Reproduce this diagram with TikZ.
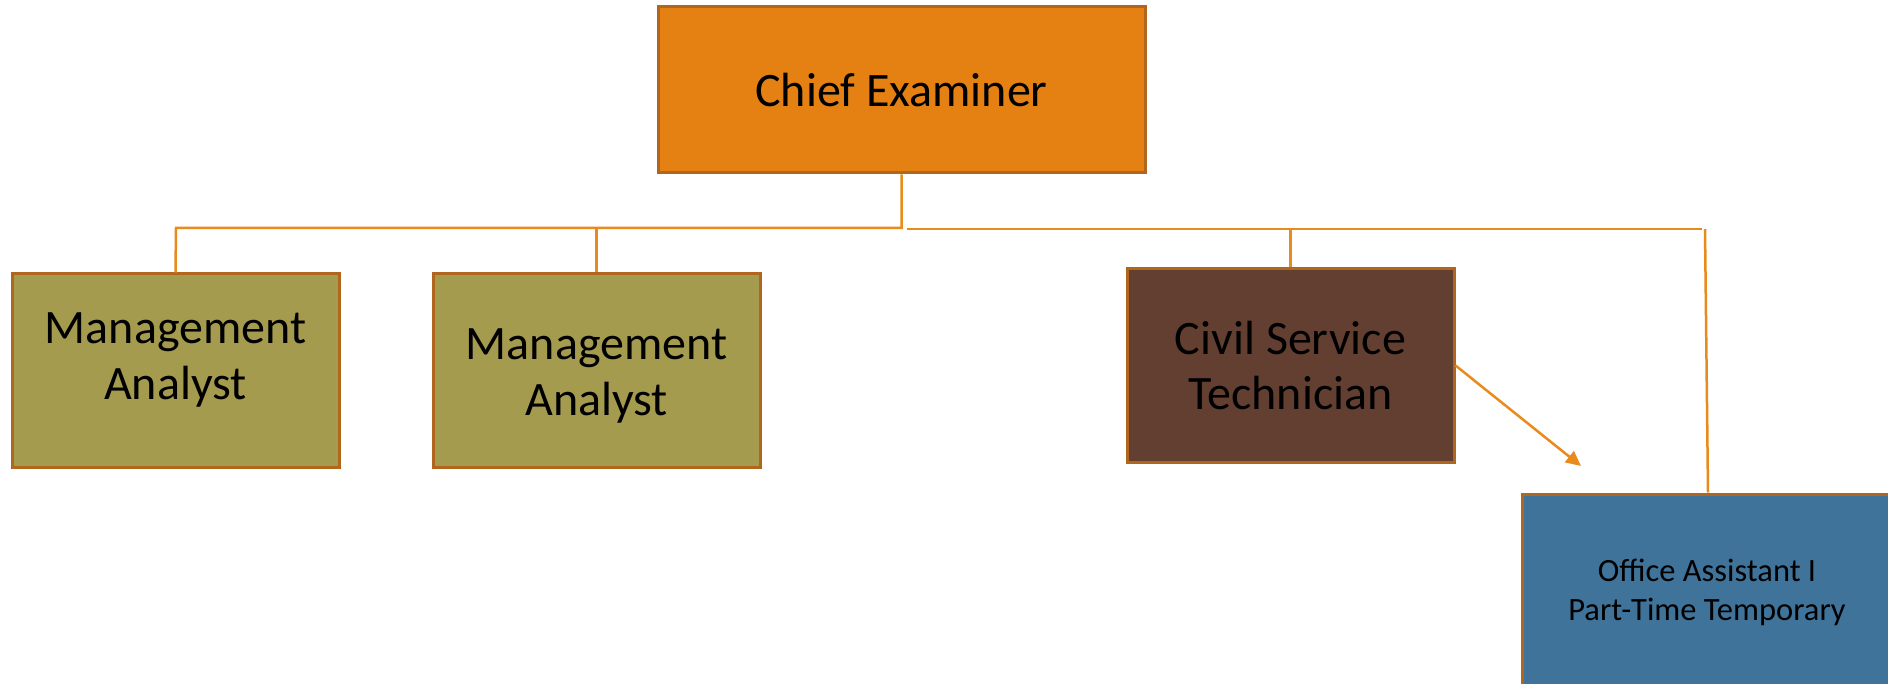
\documentclass[tikz,border=0pt]{standalone}
\usepackage{fontspec}
\setmainfont{Carlito}
\usetikzlibrary{arrows.meta}

\definecolor{chieforange}{HTML}{E48112}
\definecolor{boxedge}{HTML}{B0661C}
\definecolor{analystolive}{HTML}{A59B4E}
\definecolor{techbrown}{HTML}{633F31}
\definecolor{officeblue}{HTML}{3F7399}
\definecolor{lineorange}{HTML}{E88A1C}

\tikzset{
    post/.style={rectangle, draw=boxedge, line width=3pt, inner sep=0pt,
        align=center, text=black},
    bigtext/.style={font=\fontsize{48}{56}\selectfont, align=center},
    conn/.style={draw=lineorange, line width=2.5pt}
}

\begin{document}
\begin{tikzpicture}[x=1pt, y=-1pt]
    \useasboundingbox (0,0) rectangle (1888,684);

    % Boxes
    \node[post, bigtext, fill=chieforange, minimum width=487, minimum height=166]
        (chief) at (901.5,90) {Chief Examiner};
    \node[post, fill=analystolive, minimum width=327, minimum height=193]
        (ma1) at (175.5,370.5) {};
    \node[bigtext] (ma1txt) at ([yshift=11]ma1.center) {Management\\Analyst};
    \node[post, fill=analystolive, minimum width=327, minimum height=193]
        (ma2) at (596.5,370.5) {};
    \node[bigtext] (ma2txt) at ([yshift=-5]ma2.center) {Management\\Analyst};
    \node[post, bigtext, fill=techbrown, minimum width=327, minimum height=193,
        font=\fontsize{48}{55}\selectfont] (cst) at (1290.5,365.5) {Civil Service\\Technician};
    \node[post, fill=officeblue, minimum width=370, minimum height=196,
        font=\fontsize{32.5}{39}\selectfont] (oa) at (1707,592) {Office Assistant I\\Part-Time Temporary};

    % Connectors
    \coordinate (barl) at (176,228);
    \coordinate (barr) at (1702,229);
    \coordinate (tip) at (1581,466);
    \draw[conn] (chief.south) |- (barl) -- (ma1.north);
    \draw[conn] (ma2.north) -- (ma2.north |- barl);
    \draw[conn] ([xshift=5]chief.south |- barr) -- (barr);
    \draw[conn] (cst.north) -- (cst.north |- barr);
    \draw[conn] ([xshift=3]barr) -- ([xshift=1]oa.north);
    \draw[conn, -{Triangle[length=15pt, width=14pt]}] (cst.east) -- (tip);
\end{tikzpicture}
\end{document}
